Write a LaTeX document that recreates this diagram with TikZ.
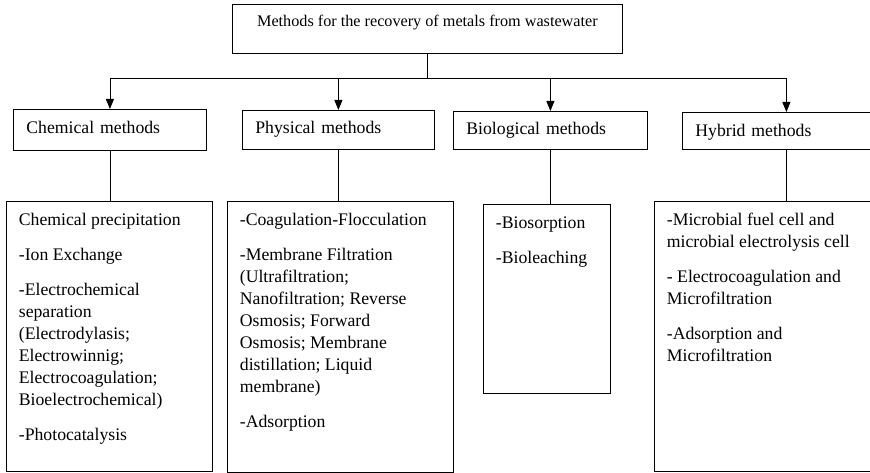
\documentclass[tikz,border=0pt]{standalone}
\usepackage{fontspec}
\setmainfont{Liberation Serif}
\usepackage{tikz}
\usetikzlibrary{arrows.meta}

\begin{document}
\begin{tikzpicture}[x=1pt, y=-1pt, line width=0.8pt,
    headbox/.style={draw, anchor=north west, inner sep=0pt, font=\fontsize{16.2}{19}\selectfont},
    groupbox/.style={draw, anchor=north west, inner xsep=13pt, inner ysep=0pt, align=left,
      text height=12pt, text depth=4pt, font=\fontsize{17.7}{22}\selectfont},
    listbox/.style={draw, anchor=north west, inner xsep=12.5pt, inner ysep=0pt,
      font=\fontsize{17.7}{22}\selectfont},
    down/.style={-{Triangle[length=10pt, width=8pt]}}]
  % Item list macro: width, height, lines
  \def\itemlist#1#2#3{\parbox[t][#2][t]{#1}{\raggedright\rule{0pt}{24pt}#3}}

  \useasboundingbox (0,0) rectangle (870,473);
  \clip (0,0) rectangle (870,473);

  % Top box
  \node[headbox, minimum width=390pt, text height=22pt, text depth=27pt] (recovery) at (232,4)
    {Methods for the recovery of metals from wastewater};

  % Method groups
  \node[groupbox, minimum height=41pt, text width=167pt] (chemical) at (13,109) {Chemical methods};
  \node[groupbox, minimum height=39pt, text width=166pt] (physical) at (242,110) {Physical methods};
  \node[groupbox, minimum height=38pt, text width=168pt] (biological) at (453,111) {Biological methods};
  \node[groupbox, minimum height=37pt, text width=182pt, text depth=0pt] (hybrid) at (682,112) {Hybrid methods};

  % Lists
  \node[listbox] (chemlist) at (6,201) {\itemlist{181pt}{270pt}{Chemical precipitation\\[13pt]
    -Ion Exchange\\[13pt]
    -Electrochemical\\ separation\\ (Electrodylasis;\\ Electrowinnig;\\ Electrocoagulation;\\ Bioelectrochemical)\\[13pt]
    -Photocatalysis}};
  \node[listbox] (physlist) at (227,201) {\itemlist{201pt}{271pt}{-Coagulation-Flocculation\\[13pt]
    -Membrane Filtration\\ (Ultrafiltration;\\ Nanofiltration; Reverse\\ Osmosis; Forward\\ Osmosis; Membrane\\ distillation; Liquid\\ membrane)\\[13pt]
    -Adsorption}};
  \node[listbox] (biolist) at (483,204) {\itemlist{102pt}{189pt}{-Biosorption\\[13pt]
    -Bioleaching}};
  \node[listbox] (hyblist) at (654,201) {\itemlist{237pt}{270pt}{-Microbial fuel cell and\\ microbial electrolysis cell\\[13pt]
    - Electrocoagulation and\\ Microfiltration\\[13pt]
    -Adsorption and\\ Microfiltration}};

  % Connectors
  \coordinate (split) at (recovery.south |- 0,78);
  \draw (recovery.south) -- (split);
  \draw (chemical.north |- split) -- (hybrid.north |- split);
  \foreach \grp in {chemical, physical, biological, hybrid}
    \draw[down] (\grp.north |- split) -- (\grp.north);
  \draw (chemical.south) -- (chemical.south |- chemlist.north);
  \draw (physical.south) -- (physical.south |- physlist.north);
  \draw (biological.south) -- (biological.south |- biolist.north);
  \draw (hybrid.south) -- (hybrid.south |- hyblist.north);
\end{tikzpicture}
\end{document}
